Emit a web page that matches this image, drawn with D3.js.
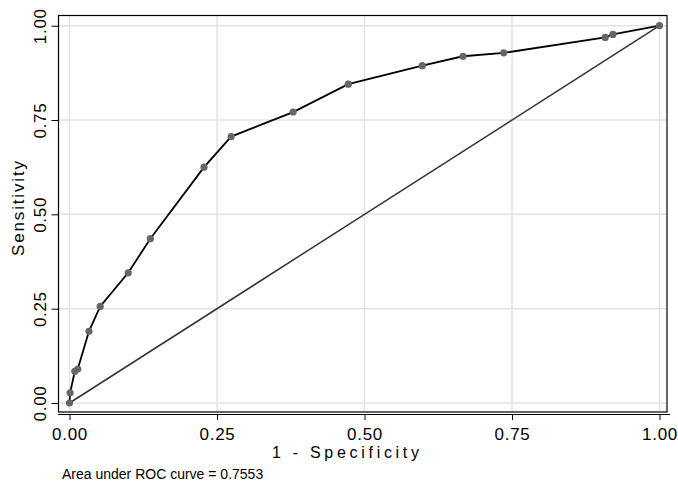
<!DOCTYPE html>
<html>
<head>
<meta charset="utf-8">
<script src="https://cdn.jsdelivr.net/npm/d3@7"></script>
<style>
  html, body { margin: 0; padding: 0; background: #fff; }
  svg { display: block; font-family: "Liberation Sans", Arial, sans-serif; }
</style>
</head>
<body>
<svg id="chart" width="678" height="485"></svg>
<script>
// ROC points: 1 - specificity, sensitivity
const fpr = [0, 0.001, 0.009, 0.014, 0.033, 0.052, 0.0995, 0.137, 0.228, 0.274, 0.379, 0.4725, 0.598, 0.667, 0.736, 0.908, 0.921, 1];
const tpr = [0, 0.027, 0.084, 0.090, 0.190, 0.256, 0.345, 0.4355, 0.625, 0.706, 0.771, 0.845, 0.894, 0.919, 0.928, 0.969, 0.977, 1];
const tickValues = [0, 0.25, 0.5, 0.75, 1];
const tickLabels = ["0.00", "0.25", "0.50", "0.75", "1.00"];
const xTitle = "1 - Specificity";
const yTitle = "Sensitivity";
const note = "Area under ROC curve = 0.7553";

const svg = d3.select("#chart");
const x = d3.scaleLinear().domain([0, 1]).range([69.5, 659.5]);
const y = d3.scaleLinear().domain([0, 1]).range([403, 25.7]);
const pts = fpr.map((v, i) => [v, tpr[i]]);

// grid
const grid = svg.append("g").attr("stroke", "#e3e3e3").attr("stroke-width", 1.5);
tickValues.forEach(v => {
  grid.append("line").attr("x1", x(v)).attr("x2", x(v)).attr("y1", 16).attr("y2", 411);
  grid.append("line").attr("x1", 59).attr("x2", 666).attr("y1", y(v)).attr("y2", y(v));
});

// frame
svg.append("rect")
  .attr("x", 58.5).attr("y", 15.5).attr("width", 608.5).attr("height", 396.5)
  .attr("fill", "none").attr("stroke", "#000").attr("stroke-width", 1.2);

// reference diagonal
svg.append("line")
  .attr("x1", x(0)).attr("y1", y(0)).attr("x2", x(1)).attr("y2", y(1))
  .attr("stroke", "#333").attr("stroke-width", 1.5);

// ROC curve
svg.append("path")
  .datum(pts)
  .attr("d", d3.line().x(d => x(d[0])).y(d => y(d[1])))
  .attr("fill", "none").attr("stroke", "#000").attr("stroke-width", 1.8);

svg.append("g").selectAll("circle")
  .data(pts)
  .join("circle")
  .attr("cx", d => x(d[0])).attr("cy", d => y(d[1]))
  .attr("r", 3.6).attr("fill", "#666");

// x axis
const xAxis = d3.axisBottom(x).tickValues(tickValues)
  .tickFormat((d, i) => tickLabels[i]).tickSize(6).tickPadding(8);
const gx = svg.append("g").attr("transform", "translate(0,414)").call(xAxis);
gx.select(".domain").attr("d", "M58,0.5H670").attr("stroke", "#000").attr("stroke-width", 1.2);
gx.selectAll(".tick line").attr("stroke", "#000");
gx.selectAll("text").attr("font-size", 17).attr("fill", "#000")
  .attr("font-family", "Liberation Sans, Arial, sans-serif")
  .attr("letter-spacing", 0.7);

// y axis
const yAxis = d3.axisLeft(y).tickValues(tickValues)
  .tickFormat((d, i) => tickLabels[i]).tickSize(7).tickPadding(6);
const gy = svg.append("g").attr("transform", "translate(58.5,0)").call(yAxis);
gy.select(".domain").remove();
gy.selectAll(".tick line").attr("stroke", "#000");
gy.selectAll("text")
  .attr("font-size", 17).attr("fill", "#000")
  .attr("font-family", "Liberation Sans, Arial, sans-serif")
  .attr("letter-spacing", 0.7)
  .attr("text-anchor", "middle").attr("dy", null)
  .attr("transform", "rotate(-90)")
  .attr("x", 0).attr("y", -13);

// titles
svg.append("text")
  .attr("x", 272).attr("y", 458)
  .attr("font-size", 16)
  .attr("textLength", 147).attr("lengthAdjust", "spacing")
  .text(xTitle);
svg.append("text")
  .attr("transform", "translate(24,256) rotate(-90)")
  .attr("font-size", 17)
  .attr("textLength", 95).attr("lengthAdjust", "spacing")
  .text(yTitle);
svg.append("text")
  .attr("x", 62).attr("y", 479)
  .attr("font-size", 14)
  .text(note);
</script>
</body>
</html>
